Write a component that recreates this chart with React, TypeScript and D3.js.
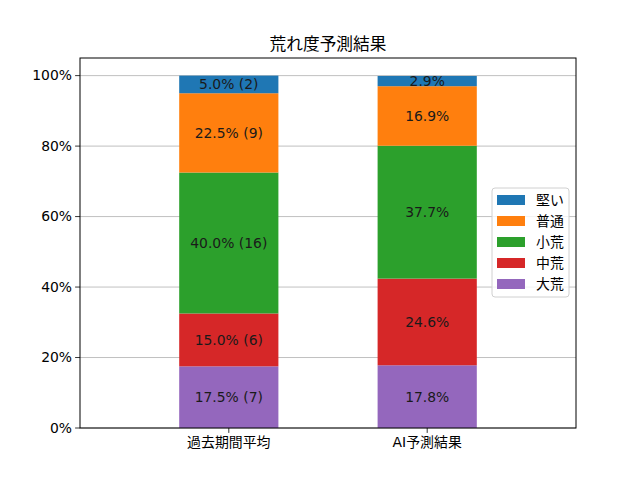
import { useEffect, useRef } from 'react';
import * as d3 from 'd3';

// Data
const groups = ['過去期間平均', 'AI予測結果'];
const levels = ['大荒', '中荒', '小荒', '普通', '堅い']; // bottom -> top
const pastValues = [17.5, 15.0, 40.0, 22.5, 5.0];
const pastCounts = [7, 6, 16, 9, 2];
const aiValues = [17.8, 24.6, 37.7, 16.9, 2.9];
const yTicks = [0, 20, 40, 60, 80, 100];
const levelColors = ['#9467bd', '#d62728', '#2ca02c', '#ff7f0e', '#1f77b4'];

const FONT = '"DejaVu Sans", "Noto Sans CJK JP", sans-serif';

export default function App() {
  const svgRef = useRef<SVGSVGElement>(null);
  const width = 640;
  const height = 480;

  useEffect(() => {
    if (!svgRef.current) return;
    const svg = d3.select(svgRef.current);
    svg.selectAll('*').remove();

    const margin = { top: 58, right: 64, bottom: 52, left: 80 };
    const innerW = width - margin.left - margin.right;
    const innerH = height - margin.top - margin.bottom;

    const x = d3.scaleLinear().domain([-0.75, 1.75]).range([0, innerW]);
    const y = d3.scaleLinear().domain([0, 105]).range([innerH, 0]);
    const barW = x(0.5) - x(0);

    const g = svg.append('g').attr('transform', `translate(${margin.left},${margin.top})`);

    // grid
    g.selectAll('.grid')
      .data(yTicks)
      .enter()
      .append('line')
      .attr('x1', 0)
      .attr('x2', innerW)
      .attr('y1', (d) => y(d))
      .attr('y2', (d) => y(d))
      .attr('stroke', '#b0b0b0')
      .attr('stroke-width', 0.8);

    // stacked bars
    const series = [pastValues, aiValues];
    series.forEach((vals, gi) => {
      let base = 0;
      vals.forEach((v, li) => {
        const y0 = y(base);
        const y1 = y(base + v);
        g.append('rect')
          .attr('x', x(gi) - barW / 2)
          .attr('y', y1)
          .attr('width', barW)
          .attr('height', y0 - y1)
          .attr('fill', levelColors[li]);
        const label = gi === 0 ? `${v.toFixed(1)}% (${pastCounts[li]})` : `${v.toFixed(1)}%`;
        g.append('text')
          .attr('x', x(gi))
          .attr('y', (y0 + y1) / 2)
          .attr('dy', '0.35em')
          .attr('text-anchor', 'middle')
          .attr('font-family', FONT)
          .attr('font-size', '13.9px')
          .attr('fill', '#1a1a1a')
          .text(label);
        base += v;
      });
    });

    // axes frame
    g.append('rect')
      .attr('width', innerW)
      .attr('height', innerH)
      .attr('fill', 'none')
      .attr('stroke', '#000')
      .attr('stroke-width', 1);

    // y ticks
    yTicks.forEach((t) => {
      g.append('line')
        .attr('x1', -4.9)
        .attr('x2', 0)
        .attr('y1', y(t))
        .attr('y2', y(t))
        .attr('stroke', '#000')
        .attr('stroke-width', 0.8);
      g.append('text')
        .attr('x', -8)
        .attr('y', y(t))
        .attr('dy', '0.35em')
        .attr('text-anchor', 'end')
        .attr('font-family', FONT)
        .attr('font-size', '13.9px')
        .attr('fill', '#000')
        .text(`${t}%`);
    });

    // x ticks
    groups.forEach((name, i) => {
      g.append('line')
        .attr('x1', x(i))
        .attr('x2', x(i))
        .attr('y1', innerH)
        .attr('y2', innerH + 4.9)
        .attr('stroke', '#000')
        .attr('stroke-width', 0.8);
      g.append('text')
        .attr('x', x(i))
        .attr('y', innerH + 19)
        .attr('text-anchor', 'middle')
        .attr('font-family', FONT)
        .attr('font-size', '13.9px')
        .attr('fill', '#000')
        .text(name);
    });

    // title
    svg.append('text')
      .attr('x', margin.left + innerW / 2)
      .attr('y', margin.top - 8)
      .attr('text-anchor', 'middle')
      .attr('font-family', FONT)
      .attr('font-size', '16.7px')
      .attr('fill', '#000')
      .text('荒れ度予測結果');

    // legend (top entry first)
    const legendItems = levels.map((l, i) => ({ name: l, color: levelColors[i] })).reverse();
    const lg = svg.append('g').attr('transform', 'translate(492,188)');
    lg.append('rect')
      .attr('width', 77)
      .attr('height', 109)
      .attr('rx', 3)
      .attr('fill', 'rgba(255,255,255,0.8)')
      .attr('stroke', '#d0d0d0')
      .attr('stroke-width', 1);
    legendItems.forEach((d, i) => {
      const row = lg.append('g').attr('transform', `translate(0,${12 + i * 21})`);
      row.append('rect')
        .attr('x', 5)
        .attr('y', -5)
        .attr('width', 28)
        .attr('height', 10)
        .attr('fill', d.color);
      row.append('text')
        .attr('x', 44)
        .attr('y', 0)
        .attr('dy', '0.35em')
        .attr('font-family', FONT)
        .attr('font-size', '13.9px')
        .attr('fill', '#000')
        .text(d.name);
    });
  }, []);

  return (
    <div style={{ position: 'fixed', left: 0, top: 0, width, height, background: '#fff' }}>
      <svg ref={svgRef} width={width} height={height} />
    </div>
  );
}
